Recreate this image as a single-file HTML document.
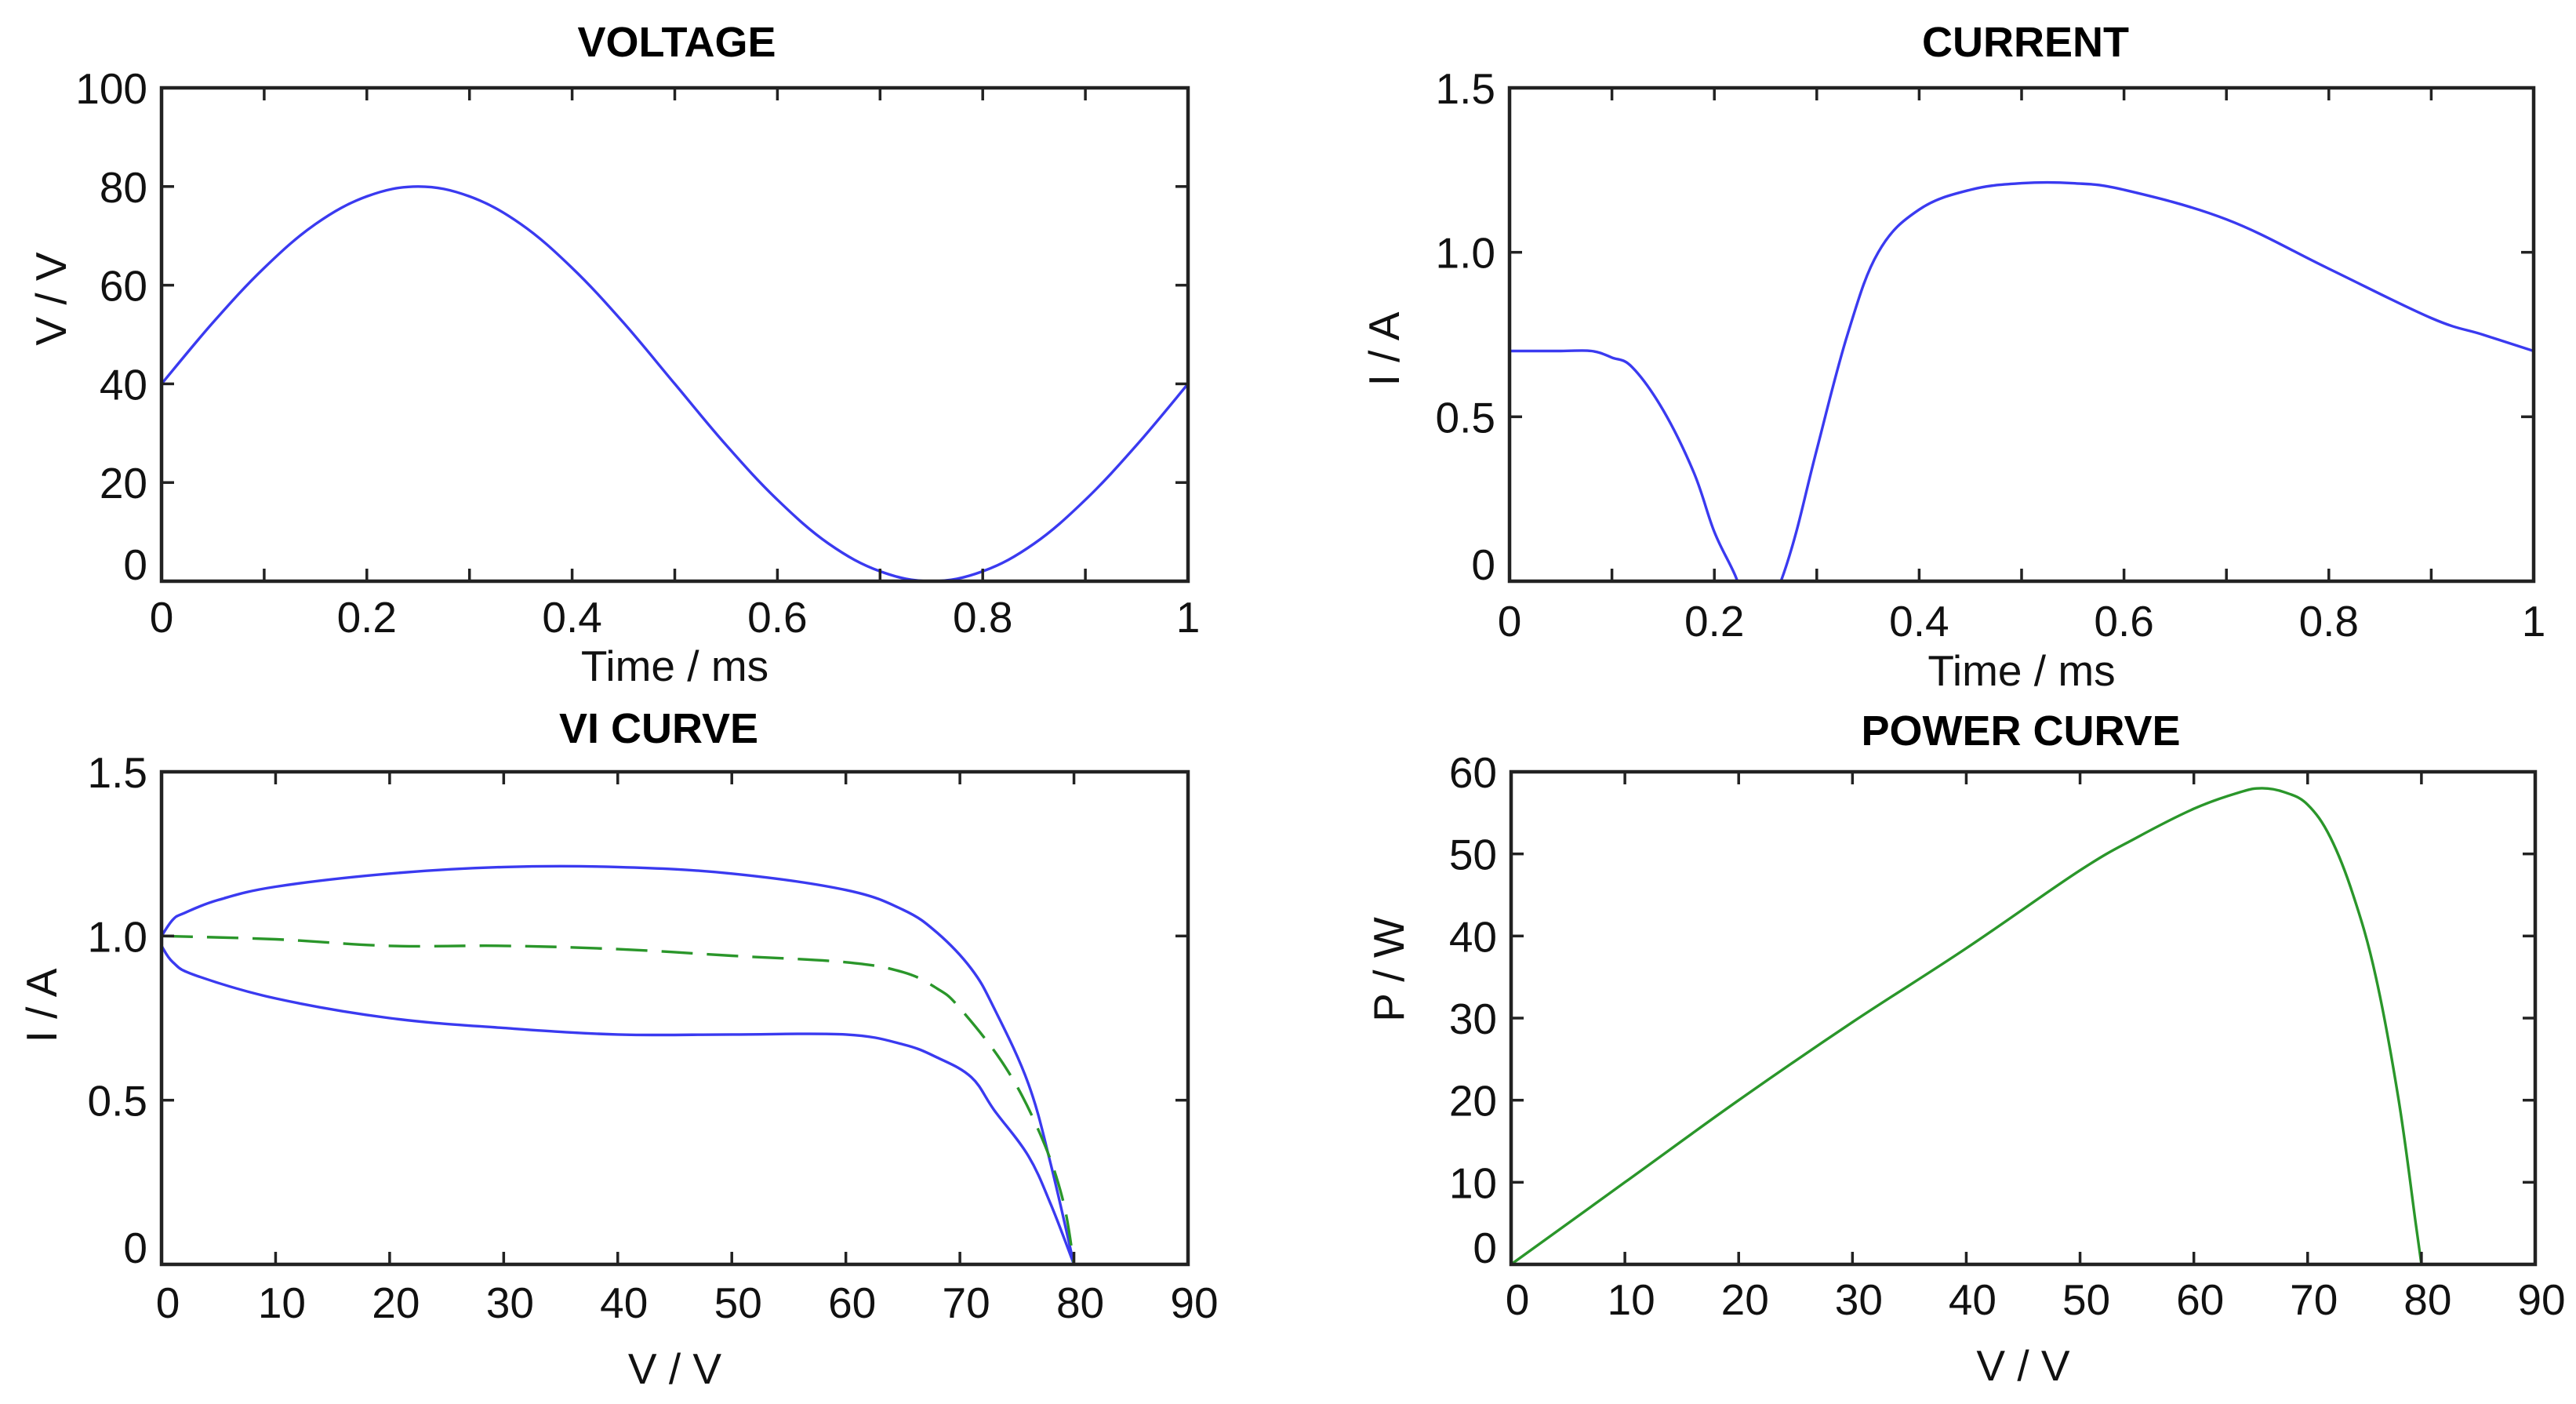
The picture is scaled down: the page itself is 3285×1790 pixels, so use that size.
<!DOCTYPE html>
<html><head><meta charset="utf-8"><style>
html,body{margin:0;padding:0;background:#fff;}
svg{display:block;font-family:"Liberation Sans",Arial,sans-serif;}
</style></head><body>
<svg id="fig" width="3285" height="1790" viewBox="0 0 3285 1790" xmlns="http://www.w3.org/2000/svg"></svg>
<script>
// ---- Data ----
const voltT = [0,0.05,0.1,0.15,0.2,0.25,0.3,0.35,0.4,0.45,0.5,0.55,0.6,0.65,0.7,0.75,0.8,0.85,0.9,0.95,1.0];
const voltV = [40,52.4,63.5,72.4,78,80,78,72.4,63.5,52.4,40,27.6,16.5,7.6,2,0,2,7.6,16.5,27.6,40];
const curT = [0,0.05,0.08,0.1,0.12,0.15,0.18,0.2,0.22,0.235,0.25,0.265,0.28,0.3,0.33,0.36,0.4,0.45,0.5,0.55,0.6,0.7,0.8,0.9,0.95,1.0];
const curI = [0.70,0.70,0.70,0.68,0.65,0.52,0.33,0.15,0.02,-0.1,-0.1,0.0,0.15,0.4,0.75,1.0,1.13,1.19,1.21,1.21,1.19,1.10,0.95,0.80,0.75,0.70];
const viUpV = [0,1,2,5,10,20,30,40,50,60,65,68,71,73,76,78,80];
const viUpI = [1.0,1.05,1.07,1.11,1.15,1.19,1.21,1.21,1.19,1.14,1.08,1.01,0.90,0.78,0.55,0.3,0];
const viLoV = [0,1,3,10,20,30,40,50,60,65,68,71,73,76,78,80];
const viLoI = [0.97,0.92,0.88,0.81,0.75,0.72,0.70,0.70,0.70,0.67,0.63,0.57,0.47,0.33,0.18,0];
const viMidV = [0,10,20,30,40,50,60,65,68,70,74,77,79,80];
const viMidI = [1.0,0.99,0.97,0.97,0.96,0.94,0.92,0.89,0.84,0.78,0.60,0.40,0.20,0];
const powV = [0,10,20,30,40,50,55,60,64,66,68,70,72,74,76,78,79.5,80];
const powP = [0,10,20,29.5,38.5,48,52,55.5,57.5,58,57.5,56,52,45,35,20,5,0];

const xTicksTime = [0,0.2,0.4,0.6,0.8,1];
const xTickLabelsTime = ["0","0.2","0.4","0.6","0.8","1"];
const xMinorTime = [0,0.1,0.2,0.3,0.4,0.5,0.6,0.7,0.8,0.9,1];
const yTicksVolt = [0,20,40,60,80,100];
const yTicksCur = [0,0.5,1.0,1.5];
const yTickLabelsCur = ["0","0.5","1.0","1.5"];
const xTicksV = [0,10,20,30,40,50,60,70,80,90];
const yTicksPow = [0,10,20,30,40,50,60];

const NS="http://www.w3.org/2000/svg";
const svg=document.getElementById('fig');
function mk(tag,attrs,parent){const e=document.createElementNS(NS,tag);for(const k in attrs)e.setAttribute(k,attrs[k]);(parent||svg).appendChild(e);return e;}

function smoothPath(P){
  let d='M'+P[0][0].toFixed(1)+','+P[0][1].toFixed(1);
  for(let i=0;i<P.length-1;i++){
    const p0=P[Math.max(0,i-1)],p1=P[i],p2=P[i+1],p3=P[Math.min(P.length-1,i+2)];
    const t=0.18;
    const c1=[p1[0]+(p2[0]-p0[0])*t,p1[1]+(p2[1]-p0[1])*t];
    const c2=[p2[0]-(p3[0]-p1[0])*t,p2[1]-(p3[1]-p1[1])*t];
    d+=' C'+c1[0].toFixed(1)+','+c1[1].toFixed(1)+' '+c2[0].toFixed(1)+','+c2[1].toFixed(1)+' '+p2[0].toFixed(1)+','+p2[1].toFixed(1);
  }
  return d;
}

function panel(o){
  const g=mk('g',{});
  
  
  const sx=v=>o.x0+(v-o.xmin)/(o.xmax-o.xmin)*(o.x1-o.x0);
  const sy=v=>o.y1-(v-o.ymin)/(o.ymax-o.ymin)*(o.y1-o.y0);
  const cid='clip-'+o.name;
  const cp=mk('clipPath',{id:cid},g);
  mk('rect',{x:o.x0,y:o.y0,width:o.x1-o.x0,height:o.y1-o.y0},cp);
  o.series.forEach(s=>{
    const pts=s.xs.map((x,i)=>[sx(x),sy(s.ys[i])]);
    const p=mk('path',{d:smoothPath(pts),fill:'none',stroke:s.color,'stroke-width':3.4,'clip-path':'url(#'+cid+')','stroke-linejoin':'round'},g);
    if(s.dash)p.setAttribute('stroke-dasharray',s.dash);
    
    
  });
  const box=mk('rect',{x:o.x0,y:o.y0,width:o.x1-o.x0,height:o.y1-o.y0,fill:'none',stroke:'#222','stroke-width':4.5},g);
  
  
  o.xTickMarks.forEach(v=>{
    const X=sx(v);
    mk('line',{x1:X,y1:o.y1,x2:X,y2:o.y1-16,stroke:'#222','stroke-width':3.5},g);
    mk('line',{x1:X,y1:o.y0,x2:X,y2:o.y0+16,stroke:'#222','stroke-width':3.5},g);
  });
  o.xTicks.forEach((v,i)=>{
    const t=mk('text',{x:sx(v)+(o.xlOff||0),y:o.xtBase,'font-size':55,'text-anchor':'middle',fill:'#111'},g);
    t.textContent=o.xLabels[i];
    
    
  });
  o.yTicks.forEach((v,i)=>{
    const Y=sy(v);
    mk('line',{x1:o.x0,y1:Y,x2:o.x0+16,y2:Y,stroke:'#222','stroke-width':3.5},g);
    mk('line',{x1:o.x1,y1:Y,x2:o.x1-16,y2:Y,stroke:'#222','stroke-width':3.5},g);
    const t=mk('text',{x:o.x0-18,y:Math.min(Y+20,o.y1)+(v===o.ymin?-2:0),'font-size':55,'text-anchor':'end',fill:'#111'},g);
    t.textContent=o.yLabels[i];
    
    
  });
  const tt=mk('text',{x:o.titleX,y:o.titleY,'font-size':54,'font-weight':'bold','text-anchor':'middle',fill:'#000'},g);
  tt.textContent=o.title;
  
  
  const xl=mk('text',{x:(o.x0+o.x1)/2,y:o.xlBase,'font-size':55,'text-anchor':'middle',fill:'#111'},g);
  xl.textContent=o.xlabel;
  
  
  const yl=mk('text',{x:0,y:0,'font-size':55,'text-anchor':'middle',fill:'#111',transform:'translate('+o.ylX+','+o.ylY+') rotate(-90)'},g);
  yl.textContent=o.ylabel;
  
  
}

panel({name:'voltage-chart',x0:206,x1:1515,y0:112,y1:741,xmin:0,xmax:1,ymin:0,ymax:100,
  xTicks:xTicksTime,xLabels:xTickLabelsTime,xTickMarks:xMinorTime,yTicks:yTicksVolt,yLabels:yTicksVolt.map(String),
  xtBase:806,xlBase:868,title:'VOLTAGE',titleX:863,titleY:72,xlabel:'Time / ms',ylabel:'V / V',ylX:84,ylY:381,
  series:[{name:'voltage-line',xs:voltT,ys:voltV,color:'#3a3af0'}]});
panel({name:'current-chart',x0:1925,x1:3231,y0:112,y1:741,xmin:0,xmax:1,ymin:0,ymax:1.5,
  xTicks:xTicksTime,xLabels:xTickLabelsTime,xTickMarks:xMinorTime,yTicks:yTicksCur,yLabels:yTickLabelsCur,
  xtBase:811,xlBase:874,title:'CURRENT',titleX:2583,titleY:72,xlabel:'Time / ms',ylabel:'I / A',ylX:1784,ylY:445,
  series:[{name:'current-line',xs:curT,ys:curI,color:'#3a3af0'}]});
panel({name:'vi-curve-chart',x0:206,x1:1515,y0:984,y1:1612,xmin:0,xmax:90,ymin:0,ymax:1.5,xlOff:8,
  xTicks:xTicksV,xLabels:xTicksV.map(String),xTickMarks:xTicksV,yTicks:yTicksCur,yLabels:yTickLabelsCur,
  xtBase:1680,xlBase:1764,title:'VI CURVE',titleX:840,titleY:947,xlabel:'V / V',ylabel:'I / A',ylX:72,ylY:1282,
  series:[{name:'vi-upper-line',xs:viUpV,ys:viUpI,color:'#3a3af0'},{name:'vi-lower-line',xs:viLoV,ys:viLoI,color:'#3a3af0'},
          {name:'vi-mean-dashed-line',xs:viMidV,ys:viMidI,color:'#2a962a',dash:'40,18'}]});
panel({name:'power-curve-chart',x0:1927,x1:3233,y0:984,y1:1612,xmin:0,xmax:90,ymin:0,ymax:60,xlOff:8,
  xTicks:xTicksV,xLabels:xTicksV.map(String),xTickMarks:xTicksV,yTicks:yTicksPow,yLabels:yTicksPow.map(String),
  xtBase:1676,xlBase:1760,title:'POWER CURVE',titleX:2577,titleY:950,xlabel:'V / V',ylabel:'P / W',ylX:1790,ylY:1236,
  series:[{name:'power-line',xs:powV,ys:powP,color:'#2a962a'}]});
</script>
</body></html>
